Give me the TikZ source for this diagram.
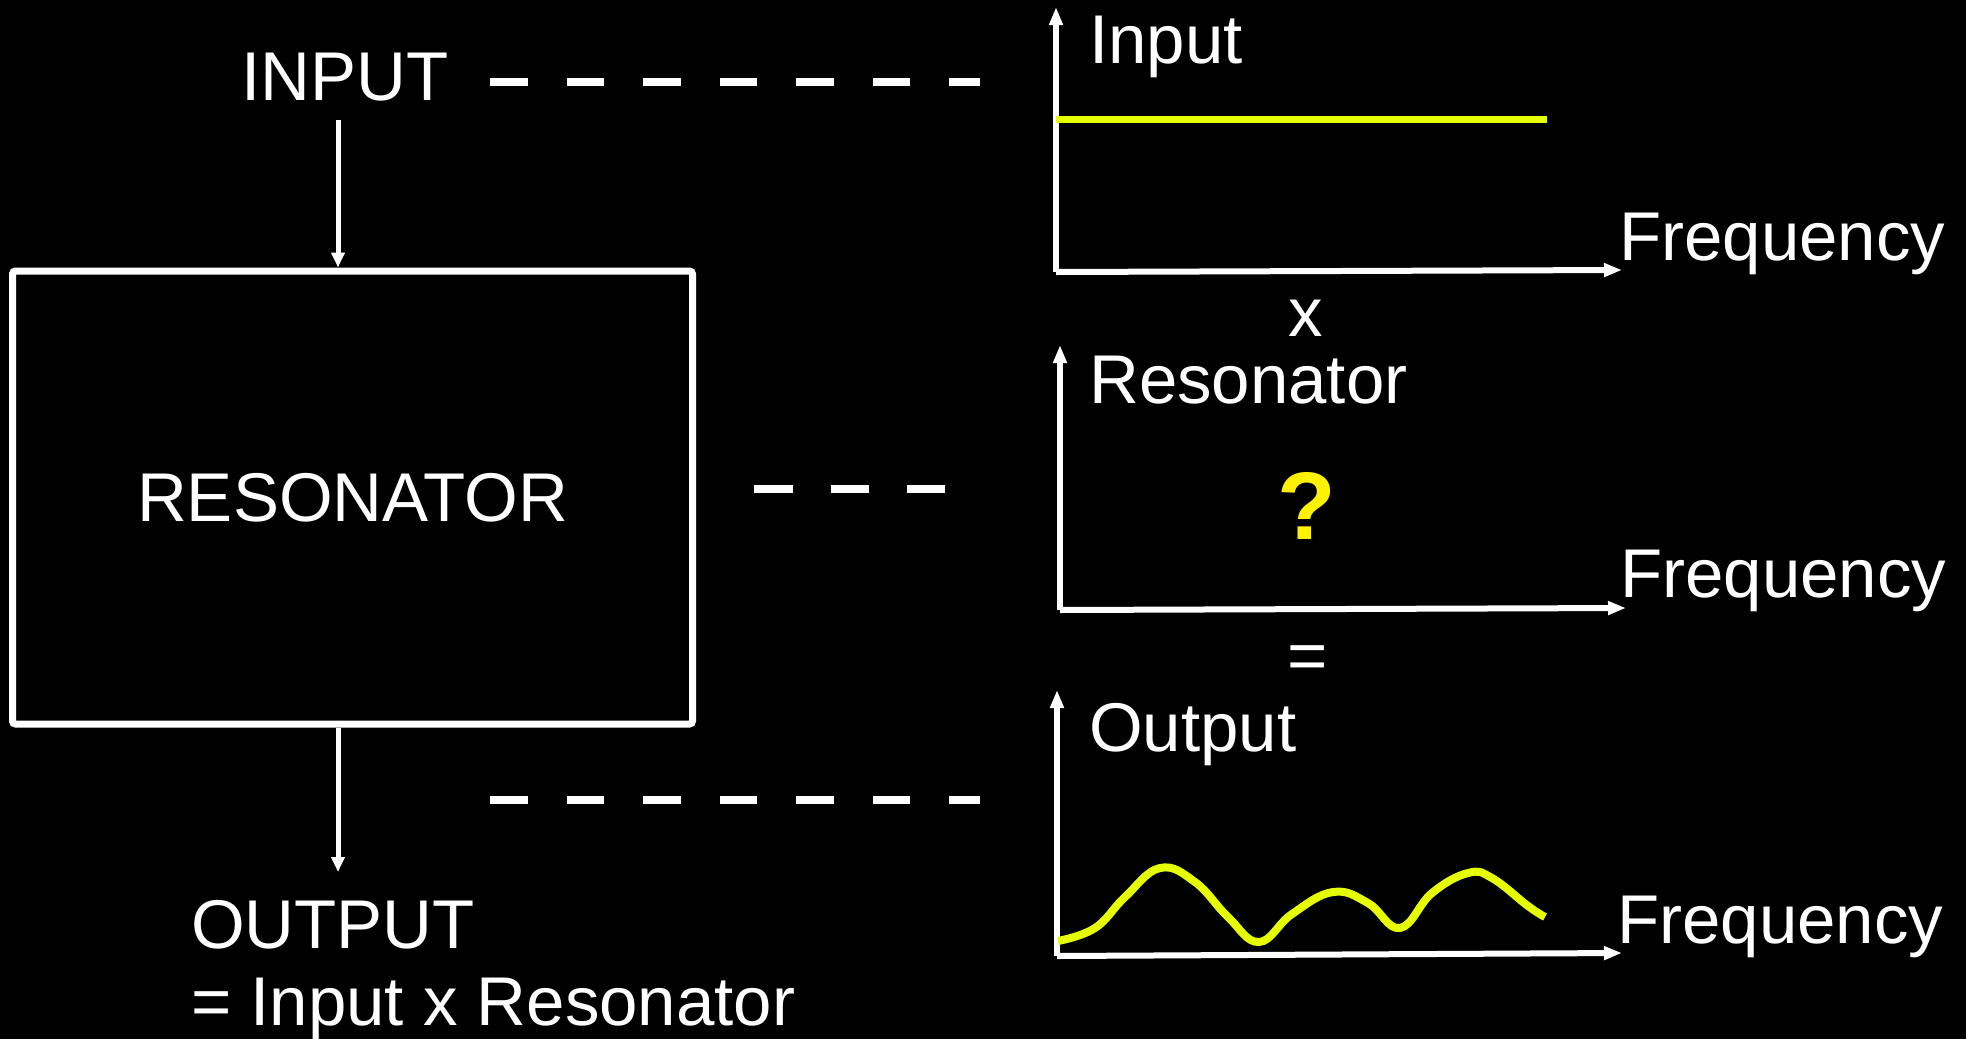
\documentclass[tikz,border=0pt]{standalone}
\usepackage{fontspec}
\setmainfont{Liberation Sans}
\usetikzlibrary{arrows.meta}
\definecolor{lime}{RGB}{230,255,0}
\begin{document}
\begin{tikzpicture}[x=1pt,y=-1pt,
  txt/.style={text=white, inner sep=0pt, font=\fontsize{69}{80}\selectfont},
  axis/.style={white, line width=6pt, -{Triangle[length=18pt,width=13pt]}},
  flow/.style={white, line width=5pt, -{Triangle[length=15pt,width=13pt]}},
  guide/.style={white, line width=8pt, dash pattern=on 37.5pt off 39pt},
  curve/.style={lime, line width=8pt, line join=round}]
\fill[black] (0,0) rectangle (1966,1039);
% left block
\node[txt, anchor=base] (inp) at (345,100) {INPUT};
\node[txt, draw=white, line width=7pt, rounded corners=3pt, minimum width=680pt, minimum height=453pt] (box) at (352.5,497.5) {RESONATOR};
\coordinate (inA) at (338,120);
\draw[flow] (inA) -- (inA |- box.north);
\coordinate (outA) at (338,872);
\draw[flow] (outA |- box.south) -- (outA);
\node[txt, anchor=base west] (outp) at (191,948) {OUTPUT};
\node[txt, anchor=base west] (eqn) at (191,1025) {= Input x Resonator};
% guides
\coordinate (g1a) at (490,82); \coordinate (g1b) at (980,82);
\draw[guide] (g1a) -- (g1b);
\coordinate (g2a) at (754,489); \coordinate (g2b) at (945,489);
\draw[guide, dash pattern=on 38.5pt off 38pt] (g2a) -- (g2b);
\coordinate (g3a) at (490,800); \coordinate (g3b) at (980,800);
\draw[guide] (g3a) -- (g3b);
% graph 1
\coordinate (o1) at (1056,272); \coordinate (t1) at (1056,7); \coordinate (r1) at (1622,270);
\draw[axis] (o1) -- (t1);
\draw[axis] (o1) -- (r1);
\coordinate (l1a) at (1056,119); \coordinate (l1b) at (1547,119);
\draw[curve, line width=7pt, line cap=butt] (l1a) -- (l1b);
\node[txt, anchor=base west] (lin) at (1089,63) {Input};
\node[txt, anchor=base west] (f1) at (1619,260) {Frequency};
\node[txt, anchor=base] (times) at (1306,336) {x};
% graph 2
\coordinate (o2) at (1060,610); \coordinate (t2) at (1060,345); \coordinate (r2) at (1626,608);
\draw[axis] (o2) -- (t2);
\draw[axis] (o2) -- (r2);
\node[txt, anchor=base west] (lres) at (1089,403) {Resonator};
\node[inner sep=0pt, anchor=base, text=yellow, font=\bfseries\fontsize{96}{110}\selectfont] (q) at (1307,539) {?};
\node[txt, anchor=base west] (f2) at (1620,597) {Frequency};
\node[txt, anchor=base] (equals) at (1308,679) {=};
% graph 3
\coordinate (o3) at (1057,956); \coordinate (t3) at (1057,690); \coordinate (r3) at (1622,953);
\draw[axis] (o3) -- (t3);
\draw[axis] (o3) -- (r3);
\node[txt, anchor=base west] (lout) at (1089,751) {Output};
\node[txt, anchor=base west] (f3) at (1617,943) {Frequency};
\draw[curve] plot[smooth, tension=0.7] coordinates {
 (1058,941) (1095,928) (1125,897) (1160,868) (1195,882) (1228,917)
 (1259,942) (1292,914) (1333,892) (1368,903) (1400,928) (1432,893)
 (1468,873) (1492,878) (1528,906) (1545,917)};
\end{tikzpicture}
\end{document}
